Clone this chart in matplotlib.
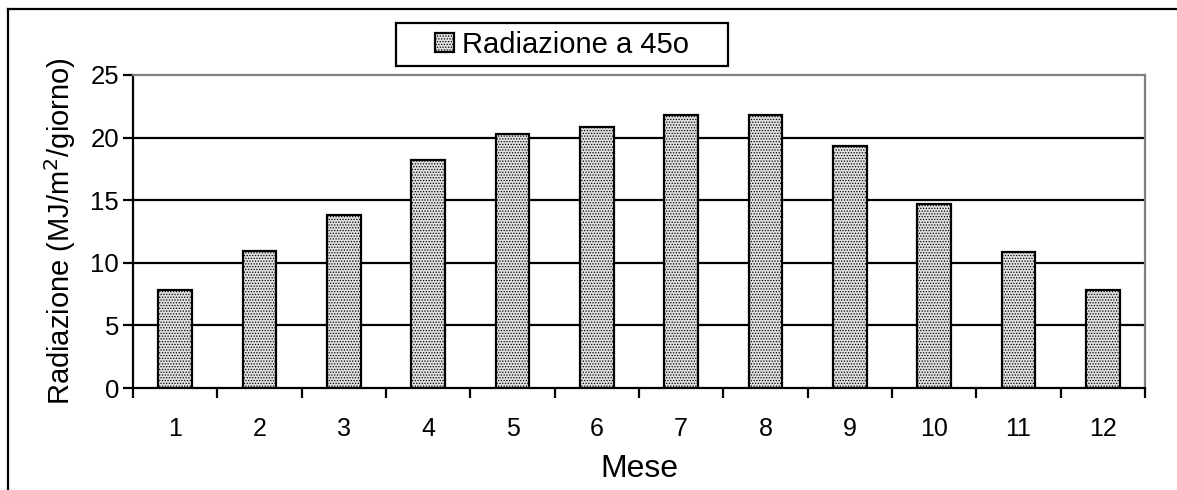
import numpy as np
import matplotlib
matplotlib.use("Agg")
import matplotlib.pyplot as plt
from matplotlib.lines import Line2D
from matplotlib.patches import Rectangle

plt.rcParams["font.family"] = ["Liberation Sans", "DejaVu Sans"]
plt.rcParams["hatch.linewidth"] = 0.6

mesi = ["1", "2", "3", "4", "5", "6", "7", "8", "9", "10", "11", "12"]
radiazione = [7.8, 10.95, 13.8, 18.2, 20.3, 20.85, 21.8, 21.8, 19.3, 14.7, 10.9, 7.8]
y_ticks = [0, 5, 10, 15, 20, 25]

fig = plt.figure(figsize=(11.77, 4.9), dpi=100)
ax = fig.add_axes([0.113, 0.208, 0.8598, 0.639])

x = np.arange(len(mesi))
ax.bar(x, radiazione, width=0.4, color="#e0e0e0", edgecolor="black",
       linewidth=1.6, hatch="......", label="Radiazione a 45o", zorder=3)

ax.set_xlim(-0.5, len(mesi) - 0.5)
ax.set_ylim(0, 25)
ax.set_yticks(y_ticks)
ax.set_xticks(x)
ax.set_xticklabels(mesi)
ax.set_xticks(np.arange(-0.5, len(mesi)), minor=True)
ax.tick_params(axis="x", which="major", length=0, labelsize=18, pad=21)
ax.tick_params(axis="x", which="minor", length=7, width=1.6, direction="out")
ax.tick_params(axis="y", length=7, width=1.6, direction="out", labelsize=18.5, pad=3)

for v in y_ticks[1:-1]:
    ax.axhline(v, color="black", linewidth=1.6, zorder=1)

ax.spines["left"].set_linewidth(1.6)
ax.spines["bottom"].set_linewidth(1.6)
ax.spines["top"].set_color("#808080")
ax.spines["right"].set_color("#808080")
ax.spines["top"].set_linewidth(1.6)
ax.spines["right"].set_linewidth(1.6)

ax.set_xlabel("Mese", fontsize=23, labelpad=9)
ax.set_ylabel("Radiazione (MJ/m$^2$/giorno)", fontsize=21, labelpad=9)

# riquadro della legenda
fig.add_artist(Rectangle((0.3364, 0.8653), 0.2821, 0.0878, transform=fig.transFigure,
                         facecolor="white", edgecolor="black", linewidth=1.6))
leg = fig.legend(loc="center", bbox_to_anchor=(0.4775, 0.909), fontsize=21,
                 frameon=False, handlelength=0.65, handleheight=0.65,
                 handletextpad=0.3, borderpad=0, borderaxespad=0)

# cornice esterna (solo bordi sinistro e superiore visibili)
fig.add_artist(Line2D([0.007, 0.007], [0, 0.982], color="black", linewidth=1.6,
                      transform=fig.transFigure))
fig.add_artist(Line2D([0.007, 1.0], [0.982, 0.982], color="black", linewidth=1.6,
                      transform=fig.transFigure))

fig.savefig("out.png", dpi=100)
